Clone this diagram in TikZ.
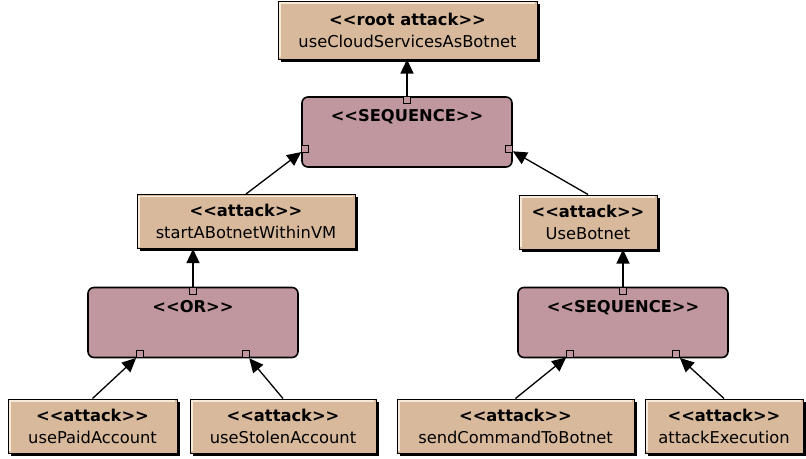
\documentclass[tikz,border=0pt]{standalone}
\usepackage{fontspec}
\setmainfont{DejaVu Sans}
\usepackage{tikz}
\usetikzlibrary{positioning,calc,shadows,arrows.meta}

\definecolor{attackfill}{HTML}{D8B99B}
\definecolor{gatefill}{HTML}{C0979F}
\definecolor{hilite}{HTML}{F6EAD8}

\newcommand\stereo[1]{\textbf{<\kern0pt<#1>\kern0pt>}}

\begin{document}
\begin{tikzpicture}[
  x=1pt,y=-1pt,
  font=\fontsize{16.3}{22}\selectfont,
  attack/.style={draw,line width=1pt,fill=attackfill,align=center,inner sep=2pt,
                 minimum height=54pt,
                 drop shadow={shadow xshift=2.5pt,shadow yshift=-2.5pt,
                              fill=black,opacity=1},
                 path picture={\draw[line width=1.5pt,hilite]
                   ([xshift=1.8pt,yshift=1.8pt]path picture bounding box.south west)
                   |- ([xshift=-1.8pt,yshift=-1.8pt]path picture bounding box.north east);}},
  gate/.style={draw,line width=1.6pt,fill=gatefill,rounded corners=6pt,
               minimum width=210pt,minimum height=70pt},
  gatelab/.style={anchor=north,inner sep=0pt,yshift=-13.5pt},
  port/.style={draw,line width=1pt,fill=gatefill,minimum size=7pt,inner sep=0pt},
  arr/.style={-{Triangle[length=14pt,width=13pt]},line width=1.3pt}
]
\useasboundingbox (0,0) rectangle (806,458);
% ---- Root ----
\node[attack,minimum width=259pt,minimum height=58pt] (root) at (407.5,30)
  {\stereo{root attack}\\useCloudServicesAsBotnet};
% ---- Gates ----
\node[gate,label={[gatelab]north:\stereo{SEQUENCE}}] (seq)  at (407,132)   {};
\node[gate,label={[gatelab]north:\stereo{OR}}]       (or)   at (193,322.5) {};
\node[gate,label={[gatelab]north:\stereo{SEQUENCE}}] (seqb) at (623,322.5) {};
% ---- Attacks ----
\node[attack,minimum width=218pt] (start)  at (246,221.5) {\stereo{attack}\\startABotnetWithinVM};
\node[attack,minimum width=138pt] (usebot) at (588,222)   {\stereo{attack}\\UseBotnet};
\node[attack,minimum width=169pt] (paid)   at (92.5,426)  {\stereo{attack}\\usePaidAccount};
\node[attack,minimum width=186pt] (stolen) at (283,426)   {\stereo{attack}\\useStolenAccount};
\node[attack,minimum width=237pt] (send)   at (515.5,426) {\stereo{attack}\\sendCommandToBotnet};
\node[attack,minimum width=158pt] (exec)   at (724,426)   {\stereo{attack}\\attackExecution};
% ---- Ports ----
\node[port,anchor=north] (seqT) at (seq.north) {};
\node[port,anchor=west]  (seqL) at ([yshift=-17pt]seq.west) {};
\node[port,anchor=east]  (seqR) at ([yshift=-17pt]seq.east) {};
\node[port,anchor=north] (orT)  at (or.north) {};
\node[port,anchor=south] (orL)  at ($(or.south west)!.25!(or.south east)$) {};
\node[port,anchor=south] (orR)  at ($(or.south west)!.75!(or.south east)$) {};
\node[port,anchor=north] (seqbT) at (seqb.north) {};
\node[port,anchor=south] (seqbL) at ($(seqb.south west)!.25!(seqb.south east)$) {};
\node[port,anchor=south] (seqbR) at ($(seqb.south west)!.75!(seqb.south east)$) {};
% ---- Edges ----
\draw[arr] (seqT.north) -- (seqT.north |- root.south);
\draw[arr] (start.north) -- (seqL);
\draw[arr] (usebot.north) -- (seqR);
\draw[arr] (orT.north) -- (orT.north |- start.south);
\draw[arr] (seqbT.north) -- (seqbT.north |- usebot.south);
\draw[arr] (paid.north) -- (orL);
\draw[arr] (stolen.north) -- (orR);
\draw[arr] (send.north) -- (seqbL);
\draw[arr] (exec.north) -- (seqbR);
\end{tikzpicture}
\end{document}
